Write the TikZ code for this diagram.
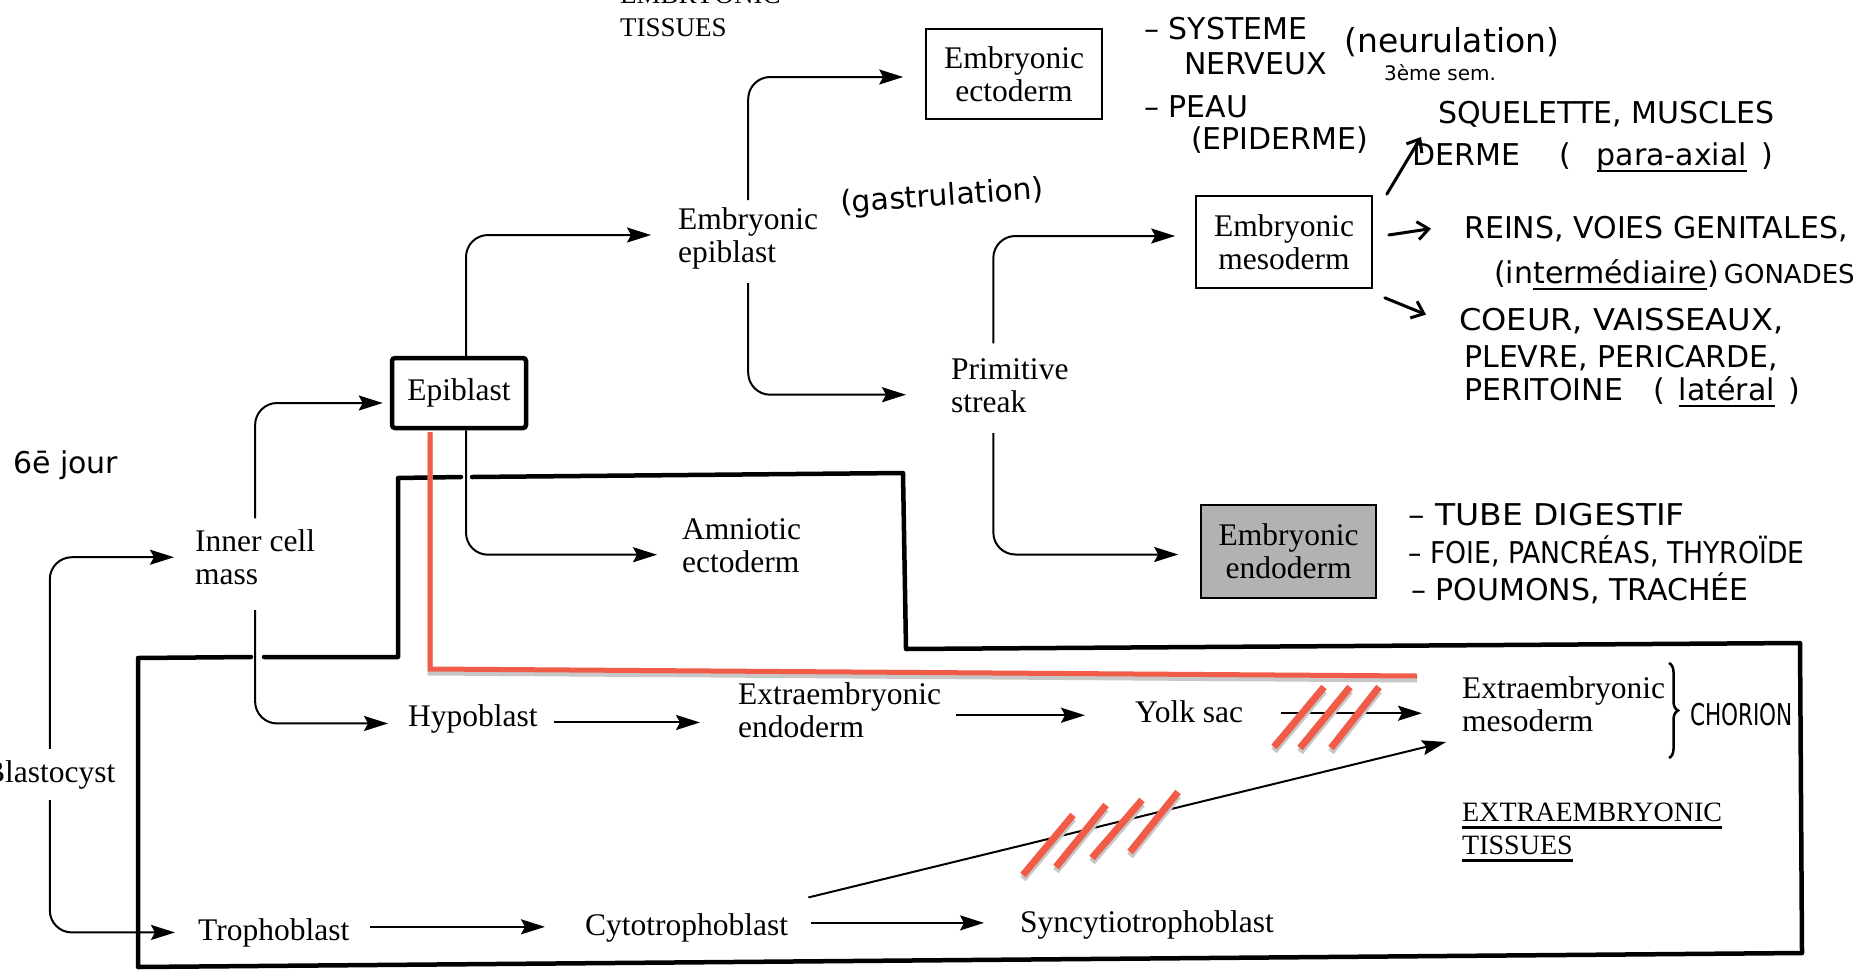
\documentclass[tikz,border=0pt]{standalone}
\usepackage{fontspec}
\usepackage{graphicx}
\setmainfont{Liberation Serif}
\newfontfamily\handfont{DejaVu Sans}
\usetikzlibrary{arrows.meta,decorations.pathreplacing}
\definecolor{redmark}{RGB}{240,92,72}
\newcommand\hwul[1]{\leavevmode\setbox0=\hbox{#1}\rlap{\smash{\rule[-7pt]{\wd0}{2.2pt}}}\box0}
\begin{document}
\begin{tikzpicture}[x=1pt,y=-1pt,
  lbl/.style={font=\fontsize{31.5}{33}\selectfont, inner sep=0pt, align=left},
  tbox/.style={draw, line width=1.6pt, font=\fontsize{31.5}{33}\selectfont, align=center, inner sep=0pt},
  conn/.style={line width=2pt, rounded corners=22pt, -{Stealth[length=24pt,width=15pt,inset=4pt]}},
  outl/.style={line width=4.5pt, line cap=round, line join=round},
  hand/.style={font=\handfont\fontsize{30}{35}\selectfont, inner sep=0pt, align=left},
  harrow/.style={line width=3pt, line cap=round, -{Straight Barb[length=11pt,width=18pt]}},
  redl/.style={draw=redmark, line width=5pt},
  redh/.style={draw=redmark, line width=7pt},
  shad/.style={draw=black!22, line width=5pt},
  shadh/.style={draw=black!22, line width=7pt}]
\useasboundingbox (0,0) rectangle (1867,977);
\fill[white] (0,0) rectangle (1867,977);

% boxes
\node[tbox, minimum width=176pt, minimum height=90pt] (ecto) at (1014,74) {Embryonic\\ectoderm};
\node[tbox, minimum width=176pt, minimum height=92pt] (meso) at (1284,242) {Embryonic\\mesoderm};
\node[tbox, fill=black!30, minimum width=175pt, minimum height=93pt] (endo) at (1288.5,551.5) {Embryonic\\endoderm};
\node[tbox, line width=4.5pt, rounded corners=3pt, minimum width=134pt, minimum height=70pt] (epi) at (459,393) {Epiblast};

% labels
\node[lbl, anchor=south west] (eepi) at (678,269) {Embryonic\\epiblast};
\node[lbl, anchor=south west] (ps) at (951,413) {Primitive\\streak};
\node[lbl, anchor=south west] (amnio) at (682,573) {Amniotic\\ectoderm};
\node[lbl, anchor=south west] (icm) at (195,585) {Inner cell\\mass};
\node[lbl, anchor=base west] (hypo) at (408,726) {Hypoblast};
\node[lbl, anchor=south west] (xendo) at (738,738) {Extraembryonic\\endoderm};
\node[lbl, anchor=base west] (yolk) at (1135,722) {Yolk sac};
\node[lbl, anchor=south west] (xmeso) at (1462,732) {Extraembryonic\\mesoderm};
\node[lbl, anchor=base west] (troph) at (198,940) {Trophoblast};
\node[lbl, anchor=base west] (cyto) at (585,935) {Cytotrophoblast};
\node[lbl, anchor=base west] (syn) at (1020,932) {Syncytiotrophoblast};
\node[lbl, anchor=base west] (blasto) at (-16,782) {Blastocyst};
\node[lbl, font=\fontsize{27}{33}\selectfont, anchor=south west] (embt) at (620,37) {EMBRYONIC\\TISSUES};
\node[lbl, font=\fontsize{28}{33}\selectfont, anchor=south west] (xembt) at (1462,855) {\hwul{EXTRAEMBRYONIC}\\\hwul{TISSUES}};

% handwritten notes
\node[hand, anchor=south west] (hsn) at (1144,75) {– SYSTEME\\\hspace*{40pt}NERVEUX};
\node[hand, font=\handfont\fontsize{33}{35}\selectfont, anchor=base west] (hneu) at (1344,52) {(neurulation)};
\node[hand, font=\handfont\fontsize{20}{24}\selectfont, anchor=base west] (hsem) at (1384,80) {3ème sem.};
\node[hand, font=\handfont\fontsize{30}{32}\selectfont, anchor=south west] (hpeau) at (1144,154) {– PEAU\\\hspace*{47pt}(EPIDERME)};
\node[hand, anchor=base west] (hsq) at (1438,123) {SQUELETTE, MUSCLES};
\node[hand, anchor=base west] (hder) at (1412,165) {DERME\hspace{40pt}(\hspace{25pt}\hwul{para-axial}\hspace{15pt})};
\node[hand, anchor=base west] (hrein) at (1464,238) {REINS, VOIES GENITALES,};
\node[hand, anchor=base west] (hinter) at (1494,283) {(in\hwul{termédiaire})\,{\fontsize{26}{26}\selectfont GONADES}};
\node[hand, anchor=base west] (hcoeur) at (1459,330) {\scalebox{1.07}[1]{COEUR, VAISSEAUX,}};
\node[hand, anchor=base west] (hplev) at (1464,367) {PLEVRE, PERICARDE,};
\node[hand, anchor=base west] (hperi) at (1464,400) {PERITOINE\hspace{30pt}(\hspace{14pt}\hwul{latéral}\hspace{14pt})};
\node[hand, anchor=base west] (htube) at (1408,525) {\scalebox{1.1}[1]{– TUBE DIGESTIF}};
\node[hand, anchor=base west] (hfoie) at (1408,563) {\scalebox{0.89}[1]{– FOIE, PANCRÉAS, THYROÏDE}};
\node[hand, anchor=base west] (hpoum) at (1411,600) {– POUMONS, TRACHÉE};
\node[hand, anchor=base west] (hchor) at (1690,725) {\scalebox{0.72}[1]{CHORION}};
\node[hand, anchor=base west, rotate=4] (hgast) at (841,213) {(gastrulation)};
\node[hand, anchor=base west] (h6e) at (13,473) {6ē jour};

% thick outline of tissue regions
\draw[outl] (264,657) -- (398,657) -- (398,478) -- (461,477);
\draw[outl] (472,477) -- (903,473) -- (906,649) -- (1800,643) -- (1802,953) -- (138,967) -- (138,658) -- (251,657);

% connectors
\draw[conn, shorten <=11pt, shorten >=21pt] (blasto.north) |- (icm.west);
\draw[conn, shorten <=11pt, shorten >=23pt] (blasto.south) |- (troph.west);
\draw[conn, shorten <=11pt, shorten >=7pt] (icm.north) |- ([yshift=-10pt]epi.west);
\draw[conn, shorten <=25pt, shorten >=20pt] (icm.south) |- ([yshift=-5pt]hypo.west);
\draw[conn, shorten >=27pt] ([xshift=7pt]epi.north) |- ([yshift=3pt]eepi.west);
\draw[conn, shorten >=25pt] ([xshift=7pt]epi.south) |- ([yshift=-9pt]amnio.west);
\draw[conn, shorten <=7pt, shorten >=22pt] (eepi.north) |- ([yshift=-3pt]ecto.west);
\draw[conn, shorten <=14pt, shorten >=45pt] (eepi.south) |- ([yshift=-9pt]ps.west);
\draw[conn, shorten <=15pt, shorten >=20pt] ([xshift=-16.5pt]ps.north) |- ([yshift=6pt]meso.west);
\draw[conn, shorten <=20pt, shorten >=22pt] ([xshift=-16.5pt]ps.south) |- ([yshift=-3pt]endo.west);
\draw[conn, shorten <=16pt, shorten >=38pt] ([yshift=-4pt]hypo.east) -- ([yshift=-4pt]hypo.east -| xendo.west);
\draw[conn, shorten <=15pt, shorten >=50pt] ([yshift=-4pt]yolk.west -| xendo.east) -- ([yshift=-4pt]yolk.west);
\draw[conn, shorten <=38pt, shorten >=40pt] ([yshift=-2pt]yolk.east) -- ([yshift=-2pt]yolk.east -| xmeso.west);
\draw[conn, shorten <=20pt, shorten >=40pt] ([yshift=5.6pt]troph.east) -- ([yshift=5.6pt]troph.east -| cyto.west);
\draw[conn, shorten <=23pt, shorten >=36pt] ([yshift=4.6pt]cyto.east) -- ([yshift=4.6pt]cyto.east -| syn.west);
\draw[conn] ([shift={(20pt,15.5pt)}]cyto.north east) -- ([shift={(-16pt,-10pt)}]xmeso.south west);

% handwritten arrows from mesoderm
\draw[harrow] ([shift={(14pt,1pt)}]meso.north east) -- ([shift={(9pt,5pt)}]hder.north west);
\draw[harrow] ([shift={(16pt,7pt)}]meso.east) -- ([shift={(-33pt,0pt)}]hrein.west);
\draw[harrow] ([shift={(12pt,-9pt)}]meso.south east) -- ([shift={(-33pt,6pt)}]hcoeur.west);

% brace for chorion
\draw[line width=2.5pt, decorate, decoration={brace, amplitude=9pt}] (1669,663) -- (1669,758);

% red annotations
\draw[shad] (430,436) -- (430,673) -- (1417,680);
\draw[redl] (430,432) -- (430,669) -- (1417,676);
\foreach \a/\b/\c/\d in {1274/747/1324/687, 1300/748/1350/687, 1331/748/1379/687,
                          1023/875/1073/815, 1056/867/1106/805, 1092/858/1142/800, 1130/852/1178/792}{
  \draw[shadh] (\a,\b+4) -- (\c,\d+4);
  \draw[redh] (\a,\b) -- (\c,\d);
}
\end{tikzpicture}
\end{document}
